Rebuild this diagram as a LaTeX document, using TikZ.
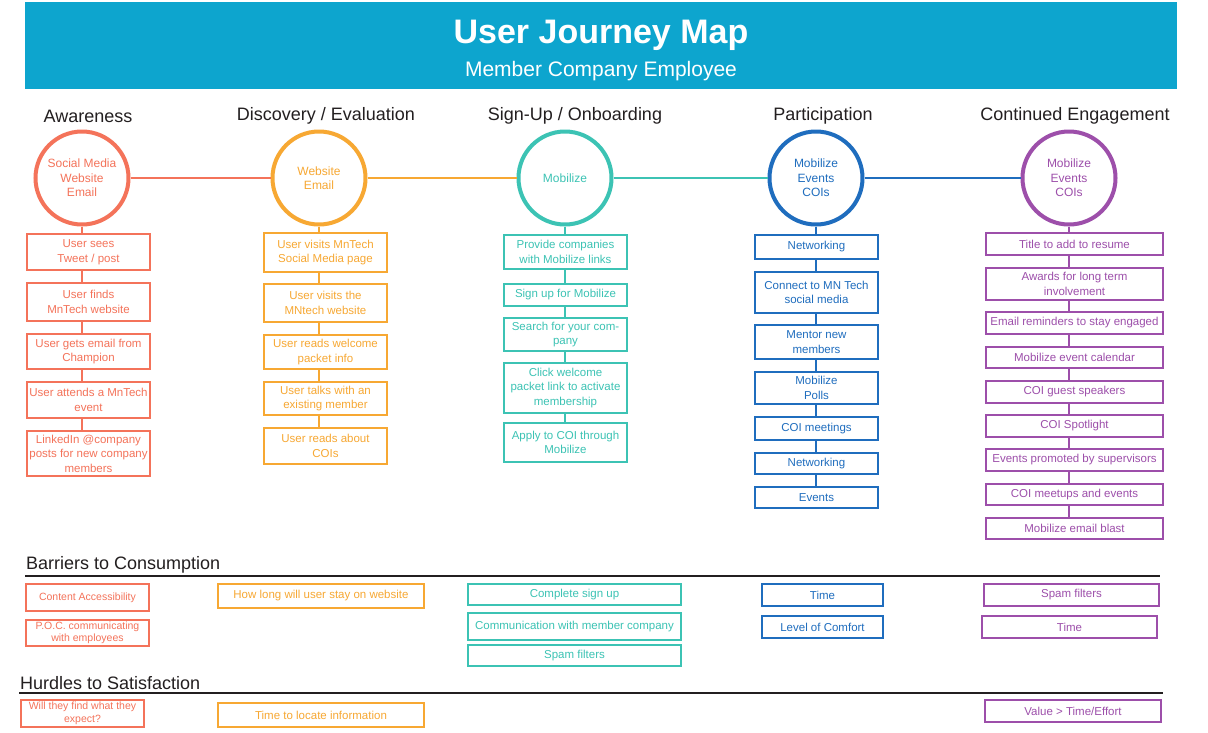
\documentclass[tikz,border=0pt]{standalone}
\usepackage{fontspec}
\setmainfont{Liberation Sans}

\definecolor{banner}{HTML}{0DA5CE}
\definecolor{aware}{HTML}{F4735A}
\definecolor{disco}{HTML}{F7A833}
\definecolor{signup}{HTML}{3CC3B4}
\definecolor{partic}{HTML}{1F6DBE}
\definecolor{contin}{HTML}{9D4FAA}
\definecolor{ink}{HTML}{231F20}

\tikzset{
	stage/.style={circle, draw=#1, text=#1, line width=4pt, fill=white,
		minimum size=93pt, inner sep=0pt, align=center,
		font=\fontsize{12}{14.5}\selectfont},
	stepbox/.style={draw=#1, text=#1, line width=2pt, fill=white,
		inner sep=0pt, align=center, font=\fontsize{11.5}{14.5}\selectfont},
	link/.style={draw=#1, line width=2.5pt},
	phase/.style={text=ink, font=\fontsize{18}{22}\selectfont},
	awbox/.style={stepbox=aware, minimum width=123},
	dibox/.style={stepbox=disco, minimum width=123},
	sibox/.style={stepbox=signup, minimum width=123},
	pabox/.style={stepbox=partic, minimum width=123},
	cobox/.style={stepbox=contin, minimum width=177},
	small/.style={font=\fontsize{10.5}{12.5}\selectfont},
}

\begin{document}
\begin{tikzpicture}[x=1pt, y=-1pt]
	\fill[white] (0,0) rectangle (1208,732);
	\useasboundingbox (0,0) rectangle (1208,732);
	% Kopfzeile
	\fill[banner] (25,2) rectangle (1177,89);
	\node[text=white, font=\fontsize{34}{40}\selectfont\bfseries] (title) at (601,35) {User Journey Map};
	\node[text=white, font=\fontsize{21}{25}\selectfont] (subtitle) at (601,71) {Member Company Employee};
	% Phasen
	\node[phase] (hAw) at (88,116) {Awareness};
	\node[phase] (hDi) at (326,116) {Discovery / Evaluation};
	\node[phase] (hSi) at (575,116) {Sign-Up / Onboarding};
	\node[phase] (hPa) at (823,116) {Participation};
	\node[phase] (hCo) at (1075,116) {Continued Engagement};
	% Kreise
	\node[stage=aware] (cAw) at (82,178) {Social Media\\Website\\Email};
	\node[stage=disco] (cDi) at (319,178) {Website\\Email};
	\node[stage=signup] (cSi) at (565,178) {Mobilize};
	\node[stage=partic] (cPa) at (816,178) {Mobilize\\Events\\COIs};
	\node[stage=contin] (cCo) at (1069,178) {Mobilize\\Events\\COIs};
	\draw[link=aware] (cAw.east) -- (cDi.west);
	\draw[link=disco] (cDi.east) -- (cSi.west);
	\draw[link=signup] (cSi.east) -- (cPa.west);
	\draw[link=partic] (cPa.east) -- (cCo.west);
	% Awareness
	\node[awbox, minimum height=36] (aw1) at (88.5,252) {User sees\\Tweet / post};
	\node[awbox, minimum height=38] (aw2) at (88.5,302) {User finds\\MnTech website};
	\node[awbox, minimum height=35] (aw3) at (88.5,351.5) {User gets email from\\Champion};
	\node[awbox, minimum height=36] (aw4) at (88.5,400) {User attends a MnTech\\event};
	\node[awbox, minimum height=45] (aw5) at (88.5,453.5) {LinkedIn @company\\posts for new company\\members};
	% Discovery / Evaluation
	\node[dibox, minimum height=39] (di1) at (325.5,252.5) {User visits MnTech\\Social Media page};
	\node[dibox, minimum height=38] (di2) at (325.5,303) {User visits the\\MNtech website};
	\node[dibox, minimum height=34] (di3) at (325.5,352) {User reads welcome\\packet info};
	\node[dibox, minimum height=33] (di4) at (325.5,398.5) {User talks with an\\existing member};
	\node[dibox, minimum height=36] (di5) at (325.5,446) {User reads about\\COIs};
	% Sign-Up / Onboarding
	\node[sibox, minimum height=34] (si1) at (565.5,252) {Provide companies\\with Mobilize links};
	\node[sibox, minimum height=22] (si2) at (565.5,295) {Sign up for Mobilize};
	\node[sibox, minimum height=33] (si3) at (565.5,334.5) {Search for your com-\\pany};
	\node[sibox, minimum height=50] (si4) at (565.5,388) {Click welcome\\packet link to activate\\membership};
	\node[sibox, minimum height=39] (si5) at (565.5,442.5) {Apply to COI through\\Mobilize};
	% Participation
	\node[pabox, minimum height=24] (pa1) at (816.5,247) {Networking};
	\node[pabox, minimum height=41] (pa2) at (816.5,292.5) {Connect to MN Tech\\social media};
	\node[pabox, minimum height=34] (pa3) at (816.5,342) {Mentor new\\members};
	\node[pabox, minimum height=32] (pa4) at (816.5,388) {Mobilize\\Polls};
	\node[pabox, minimum height=23] (pa5) at (816.5,428.5) {COI meetings};
	\node[pabox, minimum height=21] (pa6) at (816.5,463.5) {Networking};
	\node[pabox, minimum height=21] (pa7) at (816.5,497.5) {Events};
	% Continued Engagement
	\node[cobox, minimum height=22] (co1) at (1074.5,244) {Title to add to resume};
	\node[cobox, minimum height=32] (co2) at (1074.5,284) {Awards for long term\\involvement};
	\node[cobox, minimum height=22] (co3) at (1074.5,323) {Email reminders to stay engaged};
	\node[cobox, minimum height=21] (co4) at (1074.5,357.5) {Mobilize event calendar};
	\node[cobox, minimum height=22] (co5) at (1074.5,392) {COI guest speakers};
	\node[cobox, minimum height=22] (co6) at (1074.5,426) {COI Spotlight};
	\node[cobox, minimum height=22] (co7) at (1074.5,460) {Events promoted by supervisors};
	\node[cobox, minimum height=21] (co8) at (1074.5,494.5) {COI meetups and events};
	\node[cobox, minimum height=21] (co9) at (1074.5,528.5) {Mobilize email blast};
	% Verbindungen nach unten
	\draw[link=aware] (cAw.south) -- (aw1.north -| cAw);
	\foreach \i [count=\j from 2] in {1,...,4}
		\draw[link=aware] (aw\i.south -| cAw) -- (aw\j.north -| cAw);
	\draw[link=disco] (cDi.south) -- (di1.north -| cDi);
	\foreach \i [count=\j from 2] in {1,...,4}
		\draw[link=disco] (di\i.south -| cDi) -- (di\j.north -| cDi);
	\draw[link=signup] (cSi.south) -- (si1.north -| cSi);
	\foreach \i [count=\j from 2] in {1,...,4}
		\draw[link=signup] (si\i.south -| cSi) -- (si\j.north -| cSi);
	\draw[link=partic] (cPa.south) -- (pa1.north -| cPa);
	\foreach \i [count=\j from 2] in {1,...,6}
		\draw[link=partic] (pa\i.south -| cPa) -- (pa\j.north -| cPa);
	\draw[link=contin] (cCo.south) -- (co1.north -| cCo);
	\foreach \i [count=\j from 2] in {1,...,8}
		\draw[link=contin] (co\i.south -| cCo) -- (co\j.north -| cCo);
	% Barriers to Consumption
	\node[phase, anchor=west, inner sep=0pt] (barriers) at (26,565) {Barriers to Consumption};
	\draw[ink, line width=1.5pt] (25,576) -- (1160,576);
	\node[awbox, small, minimum height=27] (ba1) at (87.5,597.5) {Content Accessibility};
	\node[awbox, small, minimum height=26] (ba2) at (87.5,633) {P.O.C. communicating\\with employees};
	\node[dibox, minimum width=206, minimum height=24] (bd1) at (321,596) {How long will user stay on website};
	\node[sibox, minimum width=213, minimum height=21] (bs1) at (574.5,594.5) {Complete sign up};
	\node[sibox, minimum width=213, minimum height=27] (bs2) at (574.5,626.5) {Communication with member company};
	\node[sibox, minimum width=213, minimum height=21] (bs3) at (574.5,655.5) {Spam filters};
	\node[pabox, minimum width=121, minimum height=22] (bp1) at (822.5,595) {Time};
	\node[pabox, minimum width=121, minimum height=22] (bp2) at (822.5,627) {Level of Comfort};
	\node[cobox, minimum width=175, minimum height=22] (bc1) at (1071.5,595) {Spam filters};
	\node[cobox, minimum width=175, minimum height=22] (bc2) at (1069.5,627) {Time};
	% Hurdles to Satisfaction
	\node[phase, anchor=west, inner sep=0pt] (hurdles) at (20,683) {Hurdles to Satisfaction};
	\draw[ink, line width=1.5pt] (19,693) -- (1163,693);
	\node[awbox, small, minimum height=27] (ha1) at (82.5,713.5) {Will they find what they\\expect?};
	\node[dibox, minimum width=206, minimum height=24] (hd1) at (321,715) {Time to locate information};
	\node[cobox, minimum width=176, minimum height=22] (hc1) at (1073,711) {Value > Time/Effort};
\end{tikzpicture}
\end{document}
